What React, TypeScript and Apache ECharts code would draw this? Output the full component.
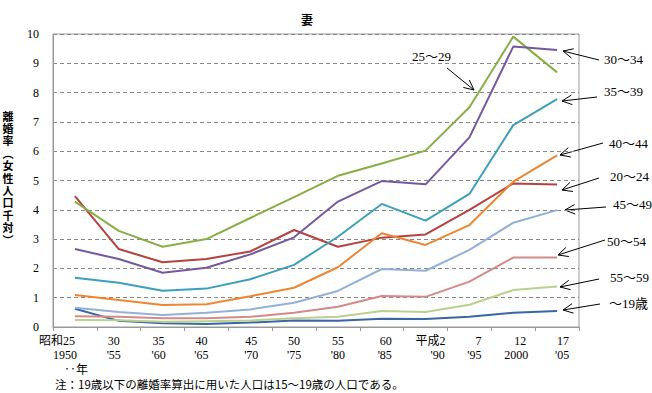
import React, { useEffect, useRef } from "react";
import * as echarts from "echarts";

const yearTop = ["昭和25", "30", "35", "40", "45", "50", "55", "60", "平成2", "7", "12", "17"];
const yearBottom = ["1950", "'55", "'60", "'65", "'70", "'75", "'80", "'85", "'90", "'95", "2000", "'05"];

const age19 = [0.62, 0.21, 0.13, 0.1, 0.15, 0.22, 0.21, 0.28, 0.27, 0.35, 0.49, 0.55];
const age20_24 = [4.47, 2.66, 2.21, 2.32, 2.58, 3.31, 2.74, 3.05, 3.16, 4.0, 4.9, 4.86];
const age25_29 = [4.28, 3.28, 2.74, 3.0, 3.72, 4.43, 5.16, 5.58, 6.02, 7.5, 9.91, 8.69];
const age30_34 = [2.66, 2.32, 1.85, 2.02, 2.48, 3.06, 4.28, 4.98, 4.87, 6.47, 9.57, 9.45];
const age35_39 = [1.68, 1.51, 1.24, 1.31, 1.63, 2.12, 3.08, 4.2, 3.63, 4.54, 6.89, 7.78];
const age40_44 = [1.09, 0.92, 0.75, 0.78, 1.05, 1.34, 2.04, 3.2, 2.8, 3.48, 4.96, 5.86];
const age45_49 = [0.66, 0.51, 0.41, 0.49, 0.6, 0.83, 1.23, 1.98, 1.92, 2.63, 3.56, 3.99];
const age50_54 = [0.37, 0.35, 0.3, 0.3, 0.35, 0.49, 0.69, 1.06, 1.03, 1.55, 2.37, 2.37];
const age55_59 = [0.24, 0.23, 0.18, 0.2, 0.22, 0.3, 0.35, 0.55, 0.51, 0.76, 1.26, 1.38];

const seriesDefs = [
  { name: "～19歳", data: age19, color: "#3A66A6" },
  { name: "20～24", data: age20_24, color: "#B5423F" },
  { name: "25～29", data: age25_29, color: "#8AAE47" },
  { name: "30～34", data: age30_34, color: "#7559A0" },
  { name: "35～39", data: age35_39, color: "#3DA0BA" },
  { name: "40～44", data: age40_44, color: "#EE8532" },
  { name: "45～49", data: age45_49, color: "#93B1D8" },
  { name: "50～54", data: age50_54, color: "#D48A88" },
  { name: "55～59", data: age55_59, color: "#B9D18F" },
];

const annotations = [
  { text: "25～29", tx: 412, ty: 58, x1: 447, y1: 68, x2: 474, y2: 90 },
  { text: "30～34", tx: 604, ty: 61, x1: 599, y1: 60, x2: 563, y2: 51 },
  { text: "35～39", tx: 604, ty: 93, x1: 597, y1: 97, x2: 562, y2: 101 },
  { text: "40～44", tx: 609, ty: 145, x1: 603, y1: 143, x2: 560, y2: 155 },
  { text: "20～24", tx: 610, ty: 178, x1: 599, y1: 178, x2: 562, y2: 190 },
  { text: "45～49", tx: 613, ty: 206, x1: 606, y1: 207, x2: 565, y2: 210 },
  { text: "50～54", tx: 607, ty: 243, x1: 605, y1: 240, x2: 558, y2: 255 },
  { text: "55～59", tx: 610, ty: 279, x1: 599, y1: 279, x2: 560, y2: 287 },
  { text: "～19歳", tx: 609, ty: 305, x1: 600, y1: 304, x2: 563, y2: 310 },
];

// horizontal nudges (px) of each tick label line, as laid out in the original
const topShift = [-18, -5, -4, -5, 1, 0, 0, 4, 5, 9, 7, 6];
const bottomShift = [-10, -5, -4, -5, 1, 0, 0, 3, 12, 5, 3, 5];

const yNameChars = ["離", "婚", "率", "︵", "女", "性", "人", "口", "千", "対", "︶"];

const SERIF = "'Liberation Serif','DejaVu Serif','Noto Sans CJK JP',serif";
const CJK = "'Noto Sans CJK JP',sans-serif";

function pad(s: number) {
  return s >= 0 ? [0, 0, 0, 2 * s] : [0, -2 * s, 0, 0];
}

function arrow(a: any) {
  const ang = Math.atan2(a.y2 - a.y1, a.x2 - a.x1);
  const len = 11;
  const spread = 0.45;
  const p1 = [a.x2 - len * Math.cos(ang - spread), a.y2 - len * Math.sin(ang - spread)];
  const p2 = [a.x2 - len * Math.cos(ang + spread), a.y2 - len * Math.sin(ang + spread)];
  const st = { stroke: "#000", lineWidth: 1 };
  return [
    { type: "line", shape: { x1: a.x1, y1: a.y1, x2: a.x2, y2: a.y2 }, style: st, silent: true },
    { type: "polyline", shape: { points: [p1, [a.x2, a.y2], p2] }, style: { ...st, fill: null }, silent: true },
    {
      type: "text",
      left: a.tx,
      top: a.ty - 8,
      style: { text: a.text, font: `13px ${SERIF}`, fill: "#000" },
      silent: true,
    },
  ];
}

export default function App() {
  const ref = useRef<HTMLDivElement>(null);
  useEffect(() => {
    if (!ref.current) return;
    const chart = echarts.init(ref.current, null, { renderer: "svg" });
    const graphics: any[] = [];
    annotations.forEach((a) => graphics.push(...arrow(a)));
    yNameChars.forEach((c, i) => {
      graphics.push({
        type: "text",
        x: 8,
        y: 110 + i * 12.4,
        style: {
          text: c,
          font: `bold 11px ${CJK}`,
          fill: "#000",
          align: "center",
          verticalAlign: "top",
        },
      });
    });
    graphics.push({
      type: "text",
      left: 64,
      top: 362,
      style: { text: "‥年", font: `12px ${CJK}`, fill: "#000" },
    });
    graphics.push({
      type: "text",
      left: 55,
      top: 378,
      style: {
        text: "注：19歳以下の離婚率算出に用いた人口は15～19歳の人口である。",
        font: `11.5px ${CJK}`,
        fill: "#000",
      },
    });
    const rich: any = {};
    yearTop.forEach((_, i) => {
      const base = { fontSize: 12, fontFamily: SERIF, color: "#000", lineHeight: 14 };
      rich["t" + i] = { ...base, padding: pad(topShift[i]) };
      rich["b" + i] = { ...base, padding: pad(bottomShift[i]) };
    });
    chart.setOption({
      animation: false,
      backgroundColor: "#fff",
      title: {
        text: "妻",
        left: 296,
        top: 8,
        textStyle: { fontSize: 12, fontWeight: "bold", fontFamily: CJK, color: "#000" },
      },
      grid: {
        left: 53,
        right: 73,
        top: 34,
        bottom: 66,
        show: true,
        borderColor: "#999",
        borderWidth: 1,
      },
      xAxis: {
        type: "category",
        boundaryGap: true,
        data: yearTop,
        axisLine: { lineStyle: { color: "#999" } },
        axisTick: { show: true, length: 4, lineStyle: { color: "#999" } },
        axisLabel: {
          color: "#000",
          fontSize: 12,
          fontFamily: SERIF,
          lineHeight: 14,
          margin: 7,
          interval: 0,
          formatter: (v: string, i: number) => `{t${i}|${v}}\n{b${i}|${yearBottom[i]}}`,
          rich,
        },
      },
      yAxis: {
        type: "value",
        min: 0,
        max: 10,
        interval: 1,
        axisLine: { show: true, lineStyle: { color: "#999" } },
        axisTick: { show: false },
        axisLabel: { color: "#000", fontSize: 12, fontFamily: SERIF, margin: 14 },
        splitLine: { lineStyle: { color: "#888", type: [4, 3], width: 1 } },
      },
      series: seriesDefs.map((s) => ({
        name: s.name,
        type: "line",
        data: s.data,
        symbol: "none",
        lineStyle: { color: s.color, width: 2 },
        itemStyle: { color: s.color },
        z: 3,
      })),
      graphic: graphics,
    });
    return () => chart.dispose();
  }, []);
  return (
    <div
      ref={ref}
      style={{ position: "absolute", left: 0, top: 0, width: 652, height: 393, background: "#fff" }}
    />
  );
}
